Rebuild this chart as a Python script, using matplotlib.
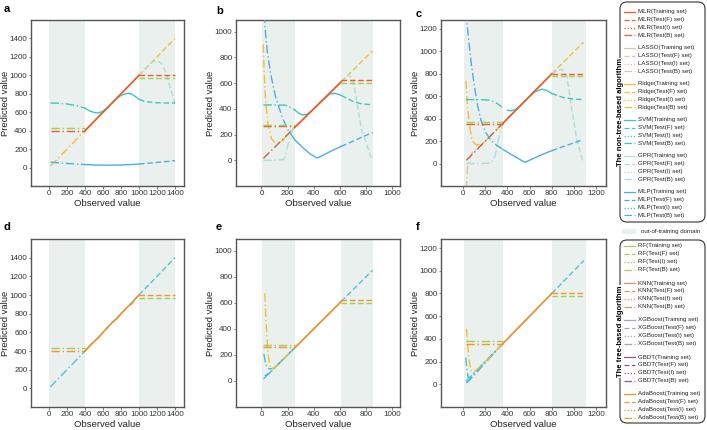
import numpy as np
import matplotlib.pyplot as plt
from matplotlib.patches import FancyBboxPatch, Rectangle

plt.rcParams['font.family'] = ['Liberation Sans', 'DejaVu Sans']

# ---------------- colours / styles ----------------
C_MLR = '#EF5B2B'
C_LASSO = '#E3C2A2'
C_RIDGE = '#F6BE35'
C_SVM = '#3EC6BD'
C_GPR = '#A9DFDA'
C_MLP = '#48AEEA'
C_RF = '#A3CD55'
C_KNN = '#F28C74'
C_XGB = '#A7A7C2'
C_GBDT = '#92508F'
C_ADA = '#F7922E'
C_BROWN = '#C8643C'
C_CYAN = '#4FC2D6'
C_SHADE = '#EAF0ED'

LS_TRAIN = '-'
LS_F = (0, (4, 2))
LS_I = (0, (1, 1.5))
LS_B = (0, (6, 2, 1, 2))

NONTREE = ['MLR', 'LASSO', 'Ridge', 'SVM', 'GPR', 'MLP']
NONTREE_COLORS = [C_MLR, C_LASSO, C_RIDGE, C_SVM, C_GPR, C_MLP]
TREE = ['RF', 'KNN', 'XGBoost', 'GBDT', 'AdaBoost']
TREE_COLORS = [C_RF, C_KNN, C_XGB, C_GBDT, C_ADA]
SETS = ['Training set', 'Test(F) set', 'Test(I) set', 'Test(B) set']

# ---------------- data: domains (start, train min, train max, end) ----------------
DOM_A = [18, 400, 1000, 1400]
DOM_B = [12, 255, 610, 850]
DOM_C = [25, 360, 800, 1085]
SHADE_A = [0, 400, 1000, 1400]
SHADE_B = [5, 255, 610, 850]
SHADE_C = [10, 360, 800, 1110]

# ---------------- panel a ----------------
A_DIAG = [18, 400, 1000, 1400]
A_LEVEL_B = [400, 425]           # MLR, other
A_LEVEL_F = [1000, 976]
A_SVM_X = [18, 100, 200, 300, 400, 450, 500, 530, 560, 600, 650, 700, 750, 800, 850, 880, 920, 960, 1000, 1050, 1100, 1200, 1300, 1400]
A_SVM_Y = [700, 698, 690, 672, 645, 615, 598, 593, 595, 612, 650, 700, 745, 782, 800, 805, 795, 770, 740, 722, 712, 703, 700, 700]
A_GPR_X = [400, 1000, 1050, 1100, 1150, 1200, 1250, 1300, 1350, 1400]
A_GPR_Y = [400, 1000, 1050, 1100, 1145, 1160, 1130, 1030, 860, 700]
A_MLP_X = [18, 100, 200, 300, 400, 500, 600, 700, 800, 900, 1000, 1100, 1200, 1300, 1400]
A_MLP_Y = [58, 52, 45, 38, 33, 28, 26, 26, 28, 32, 38, 46, 56, 65, 75]

# ---------------- panel b ----------------
B_DIAG = [15, 255, 610, 850]
B_LEVEL_B = [265, 277]
B_LEVEL_F = [620, 604]
B_MLP_X = [15, 30, 43, 69, 107, 157, 195, 255, 322, 373, 424, 450, 530, 610, 700, 780, 850]
B_MLP_Y = [1250, 1000, 858, 677, 495, 340, 249, 158, 93, 49, 18, 28, 70, 108, 148, 185, 215]
B_RIDGE_X = [14, 20, 30, 50, 75, 100, 125, 160, 200, 255, 610, 850]
B_RIDGE_Y = [900, 700, 480, 280, 170, 140, 132, 150, 200, 258, 610, 850]
B_SVM_X = [15, 100, 180, 220, 255, 290, 317, 350, 380, 420, 460, 500, 525, 560, 610, 650, 700, 760, 850]
B_SVM_Y = [430, 430, 428, 412, 390, 362, 352, 358, 380, 420, 460, 495, 515, 520, 505, 482, 458, 440, 430]
B_GPR_X = [15, 100, 170, 185, 200, 220, 240, 255, 610, 640, 664, 702, 740, 765, 803, 842]
B_GPR_Y = [0, 0, 5, 40, 110, 200, 238, 255, 610, 640, 664, 625, 392, 236, 132, 8]

# ---------------- panel c ----------------
C_DIAG = [30, 360, 800, 1085]
C_LEVEL_B = [355, 372]
C_LEVEL_F = [800, 780]
C_MLP_X = [25, 50, 75, 100, 130, 160, 200, 250, 300, 360, 420, 480, 540, 560, 600, 700, 800, 900, 1000, 1082]
C_MLP_Y = [1350, 1100, 880, 700, 520, 390, 280, 210, 165, 125, 90, 55, 20, 12, 30, 75, 115, 150, 185, 212]
C_RIDGE_X = [25, 40, 60, 80, 100, 121, 160, 200, 260, 360, 800, 1085]
C_RIDGE_Y = [740, 500, 320, 220, 180, 165, 175, 200, 260, 360, 800, 1080]
C_LASSO_X = [28, 33, 40, 55, 80, 120, 200]
C_LASSO_Y = [-230, -120, -30, 40, 95, 130, 200]
C_SVM_X = [25, 150, 250, 300, 350, 400, 430, 470, 520, 560, 600, 650, 710, 760, 800, 900, 1000, 1082]
C_SVM_Y = [570, 570, 565, 540, 505, 475, 470, 480, 520, 560, 600, 640, 664, 650, 625, 590, 575, 570]
C_GPR_X = [25, 150, 250, 287, 317, 347, 360, 800, 850, 891, 937, 982, 1027, 1082]
C_GPR_Y = [0, 0, 5, 63, 211, 315, 360, 800, 830, 842, 777, 479, 211, 12]

# ---------------- panel d ----------------
D_DIAG = [15, 400, 1000, 1400]
D_ADA_X = [400, 460, 500, 560, 600, 700, 760, 800, 880, 920, 950, 1000]
D_ADA_Y = [400, 465, 500, 552, 600, 705, 752, 800, 880, 905, 948, 1000]
D_LEVEL_B = [433, 401]
D_LEVEL_F = [965, 1000]

# ---------------- panel e ----------------
E_DIAG = [15, 255, 610, 850]
E_LEVEL_B = [279, 258]
E_LEVEL_F = [600, 620]
E_RIDGE_X = [25, 35, 45, 55, 68, 80, 95, 130, 200, 255]
E_RIDGE_Y = [672, 450, 280, 170, 100, 92, 100, 130, 200, 255]
E_SVM_X = [18, 30, 43, 60, 80, 100, 255]
E_SVM_Y = [207, 140, 103, 92, 95, 100, 255]
E_MLP_X = [25, 60, 100, 255]
E_MLP_Y = [39, 60, 100, 255]

# ---------------- panel f ----------------
F_DIAG = [25, 360, 800, 1090]
F_LEVEL_B = [378, 355]
F_LEVEL_F = [775, 800]
F_RIDGE_X = [30, 45, 60, 75, 90, 120, 200, 360]
F_RIDGE_Y = [489, 300, 170, 114, 110, 125, 200, 360]
F_SVM_X = [24, 32, 45, 60, 100, 360]
F_SVM_Y = [234, 150, 60, 60, 100, 360]
F_MLP_X = [30, 100, 200, 360]
F_MLP_Y = [10, 80, 190, 360]

TICKS_A = list(range(0, 1401, 200))
TICKS_B = list(range(0, 1001, 200))
TICKS_C = list(range(0, 1201, 200))


def draw_curve(ax, xs, ys, color, lo, hi, lw=1.0, z=3):
    xs = np.asarray(xs, float)
    ys = np.asarray(ys, float)
    parts = [(xs <= lo, LS_B), ((xs >= lo) & (xs <= hi), LS_TRAIN), (xs >= hi, LS_F)]
    for mask, ls in parts:
        if mask.sum() >= 2:
            ax.plot(xs[mask], ys[mask], color=color, ls=ls, lw=lw, zorder=z)


def draw_levels(ax, dom, levels_b, levels_f, colors):
    for lev, col in zip(levels_b, colors):
        ax.plot([dom[0], dom[1]], [lev, lev], color=col, ls=LS_B, lw=1.0, zorder=4)
    for lev, col in zip(levels_f, colors):
        ax.plot([dom[2], dom[3]], [lev, lev], color=col, ls=LS_F, lw=1.0, zorder=4)


def style_axes(ax, shade, ticks, xlim, ylim, width_px):
    ax.axvspan(shade[0], shade[1], color=C_SHADE, lw=0, zorder=0)
    ax.axvspan(shade[2], shade[3], color=C_SHADE, lw=0, zorder=0)
    ax.set_xlim(*xlim)
    ax.set_ylim(*ylim)
    ax.set_xticks(ticks)
    ax.set_yticks(ticks)
    ax.tick_params(labelsize=5.8, length=1.8, width=0.6, color='#666666', pad=0.8,
                   labelcolor='#333333')
    for s in ax.spines.values():
        s.set_color('#555555')
        s.set_linewidth(1.0)
    ax.set_xlabel('Observed value', fontsize=6.8, labelpad=1.5, color='#222222')
    ax.set_ylabel('Predicted value', fontsize=6.8, color='#222222', va='center')
    ax.yaxis.set_label_coords(-25.0 / width_px, 0.5)


fig = plt.figure(figsize=(7.07, 4.30), dpi=100)
W, H = 707.0, 430.0


def add_ax(l, r, t, b):
    return fig.add_axes([l / W, 1 - b / H, (r - l) / W, (b - t) / H])


ax_a = add_ax(31, 184, 20, 186)
ax_b = add_ax(236, 400, 20, 186)
ax_c = add_ax(441, 606, 20, 186)
ax_d = add_ax(31, 184, 239, 407)
ax_e = add_ax(236, 400, 239, 407)
ax_f = add_ax(441, 606, 239, 407)

# ---- a ----
lo, hi = DOM_A[1], DOM_A[2]
draw_curve(ax_a, A_DIAG, A_DIAG, C_RIDGE, lo, hi)
draw_curve(ax_a, A_GPR_X, A_GPR_Y, C_GPR, lo, hi)
draw_curve(ax_a, A_SVM_X, A_SVM_Y, C_SVM, lo, hi)
draw_curve(ax_a, A_MLP_X, A_MLP_Y, C_MLP, lo, hi)
draw_levels(ax_a, DOM_A, A_LEVEL_B, A_LEVEL_F, [C_MLR, C_RF])
ax_a.plot(A_DIAG[1:3], A_DIAG[1:3], color=C_MLR, lw=1.2, zorder=5)
style_axes(ax_a, SHADE_A, TICKS_A, (-200, 1500), (-200, 1600), 153)

# ---- b ----
lo, hi = DOM_B[1], DOM_B[2]
draw_curve(ax_b, B_RIDGE_X, B_RIDGE_Y, C_RIDGE, lo, hi)
draw_curve(ax_b, B_DIAG[:2], B_DIAG[:2], C_BROWN, lo, hi)
draw_curve(ax_b, B_GPR_X, B_GPR_Y, C_GPR, lo, hi)
draw_curve(ax_b, B_SVM_X, B_SVM_Y, C_SVM, lo, hi)
draw_curve(ax_b, B_MLP_X, B_MLP_Y, C_MLP, lo, hi)
draw_levels(ax_b, DOM_B, B_LEVEL_B, B_LEVEL_F, [C_MLR, C_RF])
ax_b.plot(B_DIAG[1:3], B_DIAG[1:3], color=C_MLR, lw=1.2, zorder=5)
style_axes(ax_b, SHADE_B, TICKS_B, (-195, 1060), (-200, 1090), 164)

# ---- c ----
lo, hi = DOM_C[1], DOM_C[2]
draw_curve(ax_c, C_RIDGE_X, C_RIDGE_Y, C_RIDGE, lo, hi)
draw_curve(ax_c, C_LASSO_X, C_LASSO_Y, C_LASSO, lo, hi)
draw_curve(ax_c, C_DIAG[:2], C_DIAG[:2], C_BROWN, lo, hi)
draw_curve(ax_c, C_GPR_X, C_GPR_Y, C_GPR, lo, hi)
draw_curve(ax_c, C_SVM_X, C_SVM_Y, C_SVM, lo, hi)
draw_curve(ax_c, C_MLP_X, C_MLP_Y, C_MLP, lo, hi)
draw_levels(ax_c, DOM_C, C_LEVEL_B, C_LEVEL_F, [C_MLR, C_RF])
ax_c.plot(C_DIAG[1:3], C_DIAG[1:3], color=C_MLR, lw=1.2, zorder=5)
style_axes(ax_c, SHADE_C, TICKS_C, (-200, 1290), (-200, 1280), 165)

# ---- d ----
lo, hi = DOM_A[1], DOM_A[2]
draw_curve(ax_d, D_DIAG, D_DIAG, C_CYAN, lo, hi)
draw_levels(ax_d, DOM_A, D_LEVEL_B, D_LEVEL_F, [C_RF, C_ADA])
ax_d.plot(D_ADA_X, D_ADA_Y, color=C_ADA, lw=1.2, zorder=5)
style_axes(ax_d, SHADE_A, TICKS_A, (-200, 1500), (-200, 1600), 153)

# ---- e ----
lo, hi = DOM_B[1], DOM_B[2]
draw_curve(ax_e, E_DIAG, E_DIAG, C_CYAN, lo, hi)
draw_curve(ax_e, E_MLP_X, E_MLP_Y, C_MLP, lo, hi)
draw_curve(ax_e, E_SVM_X, E_SVM_Y, C_SVM, lo, hi)
draw_curve(ax_e, E_RIDGE_X, E_RIDGE_Y, C_RIDGE, lo, hi)
draw_levels(ax_e, DOM_B, E_LEVEL_B, E_LEVEL_F, [C_RF, C_ADA])
ax_e.plot(E_DIAG[1:3], E_DIAG[1:3], color=C_ADA, lw=1.2, zorder=5)
style_axes(ax_e, SHADE_B, TICKS_B, (-195, 1060), (-200, 1090), 164)

# ---- f ----
lo, hi = DOM_C[1], DOM_C[2]
draw_curve(ax_f, F_DIAG, F_DIAG, C_CYAN, lo, hi)
draw_curve(ax_f, F_MLP_X, F_MLP_Y, C_MLP, lo, hi)
draw_curve(ax_f, F_SVM_X, F_SVM_Y, C_SVM, lo, hi)
draw_curve(ax_f, F_RIDGE_X, F_RIDGE_Y, C_RIDGE, lo, hi)
draw_levels(ax_f, DOM_C, F_LEVEL_B, F_LEVEL_F, [C_RF, C_ADA])
ax_f.plot(F_DIAG[1:3], F_DIAG[1:3], color=C_ADA, lw=1.2, zorder=5)
style_axes(ax_f, SHADE_C, TICKS_C, (-200, 1290), (-200, 1280), 165)

# panel letters
for label, (px, py) in zip('abcdef', [(4, 4), (216, 6), (416, 9), (4, 222), (216, 222), (416, 222)]):
    fig.text(px / W, 1 - py / H, label, fontsize=8, fontweight='bold', va='top', ha='left')

# ---------------- legends (drawn in pixel coordinates) ----------------
lg = fig.add_axes([0, 0, 1, 1], facecolor='none')
lg.set_xlim(0, W)
lg.set_ylim(H, 0)
lg.axis('off')

set_styles = [LS_TRAIN, LS_F, LS_I, LS_B]


def draw_legend(names, colors, top, bottom, first_y, group_step, title):
    box = FancyBboxPatch((620, top), 85, bottom - top, boxstyle='round,pad=0,rounding_size=7',
                         fc='white', ec='#333333', lw=0.8)
    lg.add_patch(box)
    for g, (name, col) in enumerate(zip(names, colors)):
        for k, (sname, ls) in enumerate(zip(SETS, set_styles)):
            y = first_y + g * group_step + k * 7.9
            lg.plot([624, 635], [y, y], color=col, ls=ls, lw=0.9)
            lg.text(637.5, y, f'{name}({sname})', fontsize=4.4, va='center', ha='left', color='#222222')
    lg.text(620, (top + bottom) / 2, title, rotation=90, fontsize=5.5, fontweight='bold',
            va='center', ha='center', bbox=dict(fc='white', ec='none', pad=0.3))


draw_legend(NONTREE, NONTREE_COLORS, 2, 222, 11.7, 36.0, 'The non-tree-based algorithm')
lg.add_patch(Rectangle((622, 228.5), 14, 5, fc=C_SHADE, ec='none'))
lg.text(641, 231, 'out-of-training domain', fontsize=4.4, va='center', ha='left', color='#222222')
draw_legend(TREE, TREE_COLORS, 240, 423, 246, 37.0, 'The tree-based algorithm')

fig.savefig('out.png', dpi=100)
